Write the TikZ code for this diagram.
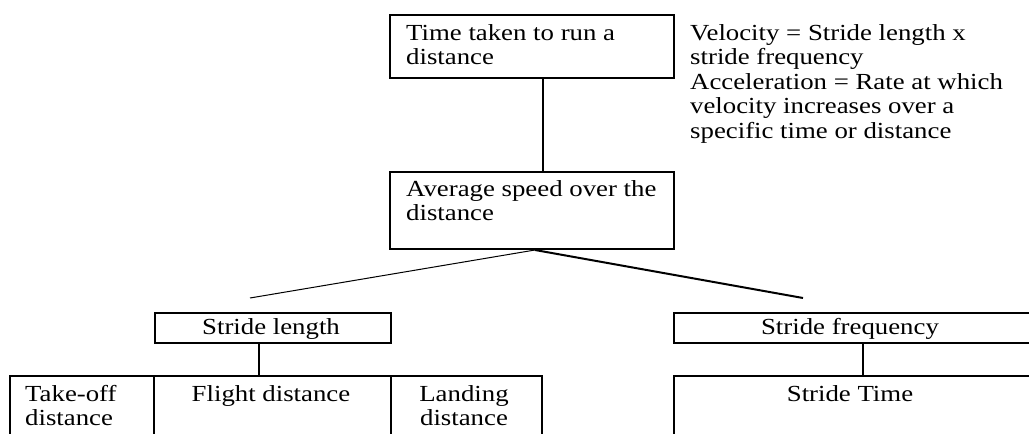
\documentclass[tikz,border=0pt]{standalone}
\usepackage{fontspec}
\setmainfont{Liberation Serif}[FakeStretch=1.165]
\begin{document}
\begin{tikzpicture}[x=1pt,y=-1pt,
  boxnode/.style={draw=black,line width=2pt,rectangle,inner sep=0pt,anchor=north west},
  txt/.style={inner sep=0pt,font=\fontsize{23}{24.4}\selectfont,align=left},
  link/.style={draw=black,line width=2pt},
  thinlink/.style={draw=black,line width=1pt}]
\useasboundingbox (0,0) rectangle (1029,434);
\clip (0,0) rectangle (1029,434);
% boxes
\node[boxnode,minimum width=284pt,minimum height=63pt] (top) at (389,14) {};
\node[boxnode,minimum width=284pt,minimum height=77pt] (avg) at (389,171) {};
\node[boxnode,minimum width=236pt,minimum height=30pt] (sl) at (154,312) {};
\node[boxnode,minimum width=378pt,minimum height=30pt] (sf) at (673,312) {};
\node[boxnode,minimum width=144pt,minimum height=80pt] (to) at (9,375) {};
\node[boxnode,minimum width=237pt,minimum height=80pt] (fd) at (153,375) {};
\node[boxnode,minimum width=151pt,minimum height=80pt] (ld) at (390,375) {};
\node[boxnode,minimum width=378pt,minimum height=80pt] (st) at (673,375) {};
% texts (base anchor = baseline of the last line)
\node[txt,anchor=base west] (ttop) at (406,64.5) {Time taken to run a\\distance};
\node[txt,anchor=base west] (tavg) at (406,220.5) {Average speed over the\\distance};
\node[txt,anchor=base west] (tside) at (690,138) {Velocity = Stride length x\\stride frequency\\Acceleration = Rate at which\\velocity increases over a\\specific time or distance};
\node[txt,anchor=base] (tsl) at (271,334) {Stride length};
\node[txt,anchor=base] (tsf) at (850,334) {Stride frequency};
\node[txt,anchor=base west] (tto) at (25,425.5) {Take-off\\distance};
\node[txt,anchor=base] (tfd) at (271,401) {Flight distance};
\node[txt,anchor=base,align=center] (tld) at (464,425.5) {Landing\\distance};
\node[txt,anchor=base] (tst) at (850,401) {Stride Time};
% connectors
\draw[link] ([xshift=11pt]top.south) -- ([xshift=11pt]avg.north);
\coordinate (apex) at (535,250);
\coordinate (lend) at (250,298);
\coordinate (rend) at (803,298);
\draw[thinlink] (apex) -- (lend);
\draw[link] (apex) -- (rend);
\draw[link] ([xshift=-14pt]sl.south) -- ([xshift=-13.5pt]fd.north);
\draw[link] (sf.south) -- (st.north);
\end{tikzpicture}
\end{document}
